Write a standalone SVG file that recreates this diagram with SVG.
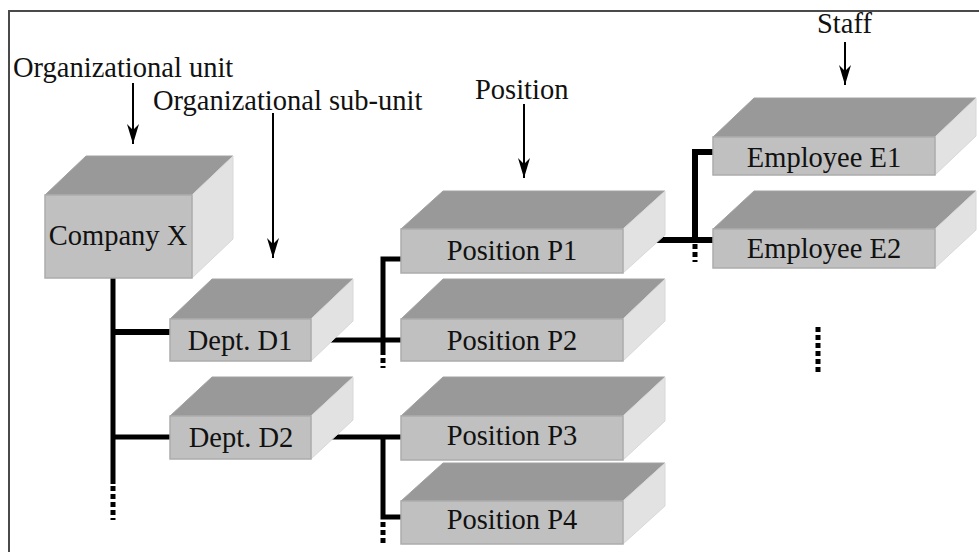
<svg xmlns="http://www.w3.org/2000/svg" width="979" height="552" viewBox="0 0 979 552">
<style>
.top{fill:#999999;stroke:#a2a2a2;stroke-width:1}
.front{fill:#c0c0c0;stroke:#acacac;stroke-width:1.5}
.side{fill:#e2e2e2;stroke:#d8d8d8;stroke-width:1}
.lbl{font-size:28.5px;fill:#111}
.mid{text-anchor:middle}
.ln{stroke:#000;fill:none;stroke-linecap:butt}
.dot{stroke:#000;fill:none;stroke-width:5;stroke-dasharray:5,3}
.arr{stroke:#000;stroke-width:2;fill:none;marker-end:url(#ah)}
</style>
<defs>
<marker id="ah" markerUnits="userSpaceOnUse" markerWidth="22" markerHeight="14" viewBox="0 -7 22 14" refX="20" refY="0" orient="auto">
<path d="M0,-6 L20,0 L0,6 L6,0 Z" fill="#000"/>
</marker>
</defs>
<rect x="0" y="0" width="979" height="552" fill="#fff"/>
<path d="M9,560 L9,11 L990,11" fill="none" stroke="#4a4a4a" stroke-width="2"/>

<g id="labels" font-family="Liberation Serif">
<text class="lbl" x="13" y="77" font-family="Liberation Serif">Organizational unit</text>
<text class="lbl" x="153" y="110" font-family="Liberation Serif">Organizational sub-unit</text>
<text class="lbl" x="475" y="99" font-family="Liberation Serif">Position</text>
<text class="lbl" x="817" y="33" font-family="Liberation Serif">Staff</text>
<line class="arr" x1="133" y1="83" x2="133" y2="144"/>
<line class="arr" x1="273" y1="113" x2="273" y2="258"/>
<line class="arr" x1="524" y1="104" x2="524" y2="178"/>
<line class="arr" x1="845" y1="42" x2="845" y2="85"/>
</g>

<g id="connectors">
<line class="ln" x1="113" y1="278" x2="113" y2="484" stroke-width="5"/>
<line class="dot" x1="113" y1="486" x2="113" y2="520"/>
<line class="ln" x1="113" y1="332" x2="171" y2="332" stroke-width="6"/>
<line class="ln" x1="113" y1="437" x2="171" y2="437" stroke-width="5"/>

<line class="ln" x1="311" y1="340" x2="402" y2="340" stroke-width="5"/>
<polyline class="ln" points="402,259 383,259 383,350" stroke-width="5"/>
<line class="dot" x1="383" y1="350" x2="383" y2="368"/>

<line class="ln" x1="311" y1="437" x2="402" y2="437" stroke-width="5"/>
<polyline class="ln" points="383,437 383,517 402,517" stroke-width="5"/>
<line class="dot" x1="383" y1="522" x2="383" y2="544"/>

<line class="ln" x1="623" y1="240" x2="714" y2="240" stroke-width="6"/>
<polyline class="ln" points="714,152 695,152 695,240" stroke-width="6"/>
<line class="dot" x1="695" y1="244" x2="695" y2="262"/>

<line class="dot" x1="818" y1="327" x2="818" y2="372"/>
</g>

<g id="company-x" font-family="Liberation Serif">
<polygon class="top" points="45,195 86,156 233,156 192,195"/>
<polygon class="side" points="192,195 233,156 233,239 192,278"/>
<rect class="front" x="45" y="195" width="147" height="83"/>
<text class="lbl mid" x="118" y="245" font-family="Liberation Serif">Company X</text>
</g>

<g id="dept-d1" font-family="Liberation Serif">
<polygon class="top" points="170,319 212,279 353,279 311,319"/>
<polygon class="side" points="311,319 353,279 353,321 311,361"/>
<rect class="front" x="170" y="319" width="141" height="42"/>
<text class="lbl mid" x="240" y="350" font-family="Liberation Serif">Dept. D1</text>
</g>

<g id="dept-d2" font-family="Liberation Serif">
<polygon class="top" points="170,416 212,377 353,377 311,416"/>
<polygon class="side" points="311,416 353,377 353,420 311,459"/>
<rect class="front" x="170" y="416" width="141" height="43"/>
<text class="lbl mid" x="241" y="447" font-family="Liberation Serif">Dept. D2</text>
</g>

<g id="position-p1" font-family="Liberation Serif">
<polygon class="top" points="401,229 443,191 665,191 623,229"/>
<polygon class="side" points="623,229 665,191 665,235 623,273"/>
<rect class="front" x="401" y="229" width="222" height="44"/>
<text class="lbl mid" x="512" y="260" font-family="Liberation Serif">Position P1</text>
</g>

<g id="position-p2" font-family="Liberation Serif">
<polygon class="top" points="401,319 443,279 665,279 623,319"/>
<polygon class="side" points="623,319 665,279 665,321 623,361"/>
<rect class="front" x="401" y="319" width="222" height="42"/>
<text class="lbl mid" x="512" y="350" font-family="Liberation Serif">Position P2</text>
</g>

<g id="position-p3" font-family="Liberation Serif">
<polygon class="top" points="401,416 443,377 665,377 623,416"/>
<polygon class="side" points="623,416 665,377 665,421 623,460"/>
<rect class="front" x="401" y="416" width="222" height="44"/>
<text class="lbl mid" x="512" y="445" font-family="Liberation Serif">Position P3</text>
</g>

<g id="position-p4" font-family="Liberation Serif">
<polygon class="top" points="401,501 443,463 665,463 623,501"/>
<polygon class="side" points="623,501 665,463 665,506 623,544"/>
<rect class="front" x="401" y="501" width="222" height="43"/>
<text class="lbl mid" x="512" y="529" font-family="Liberation Serif">Position P4</text>
</g>

<g id="employee-e1" font-family="Liberation Serif">
<polygon class="top" points="713,137 754,98 976,98 935,137"/>
<polygon class="side" points="935,137 976,98 976,136 935,175"/>
<rect class="front" x="713" y="137" width="222" height="38"/>
<text class="lbl mid" x="824" y="167" font-family="Liberation Serif">Employee E1</text>
</g>

<g id="employee-e2" font-family="Liberation Serif">
<polygon class="top" points="713,229 754,191 976,191 935,229"/>
<polygon class="side" points="935,229 976,191 976,230 935,268"/>
<rect class="front" x="713" y="229" width="222" height="39"/>
<text class="lbl mid" x="824" y="258" font-family="Liberation Serif">Employee E2</text>
</g>
</svg>
